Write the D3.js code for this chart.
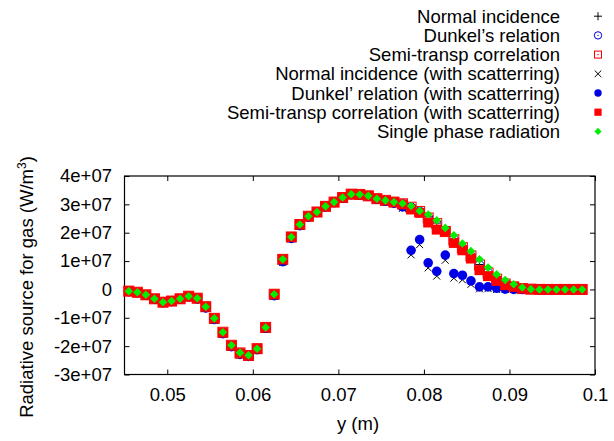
<!DOCTYPE html>
<html>
<head>
<meta charset="utf-8">
<script src="https://cdn.jsdelivr.net/npm/d3@7"></script>
<style>
  html, body { margin: 0; padding: 0; background: #fff; }
  text { font-family: "Liberation Sans", Arial, Helvetica, sans-serif; }
</style>
</head>
<body>
<svg id="chart" width="614" height="441"></svg>
<script>
// ---------------- data (values in units of 1e7 W/m^3) ----------------
const yPositions = [0.0455,0.0465,0.0475,0.0485,0.0495,0.0505,0.0515,0.0525,0.0535,0.0545,
  0.0555,0.0565,0.0575,0.0585,0.0595,0.0605,0.0615,0.0625,0.0635,0.0645,
  0.0655,0.0665,0.0675,0.0685,0.0695,0.0705,0.0715,0.0725,0.0735,0.0745,
  0.0755,0.0765,0.0775,0.0785,0.0795,0.0805,0.0815,0.0825,0.0835,0.0845,
  0.0855,0.0865,0.0875,0.0885,0.0895,0.0905,0.0915,0.0925,0.0935,0.0945,
  0.0955,0.0965,0.0975,0.0985];

const normalIncidence = [-0.07,-0.11,-0.20,-0.34,-0.46,-0.42,-0.34,-0.25,-0.32,-0.62,
  -1.03,-1.52,-1.98,-2.24,-2.33,-2.10,-1.35,-0.18,1.05,1.84,
  2.28,2.57,2.72,2.92,3.07,3.23,3.35,3.34,3.29,3.19,
  3.13,3.07,3.02,2.91,2.76,2.56,2.34,2.06,1.78,1.49,
  1.19,0.88,0.60,0.38,0.20,0.10,0.03,0.01,0,0,0,0,0,0];
const dunkel = [-0.07,-0.11,-0.20,-0.34,-0.46,-0.42,-0.34,-0.25,-0.32,-0.63,
  -1.04,-1.53,-1.99,-2.25,-2.34,-2.11,-1.36,-0.19,1.03,1.83,
  2.27,2.56,2.72,2.92,3.07,3.23,3.35,3.34,3.29,3.19,
  3.13,3.07,3.01,2.90,2.75,2.54,2.31,2.04,1.76,1.47,
  1.18,0.86,0.59,0.37,0.19,0.09,0.03,0.01,0,0,0,0,0,0];
const semiTransp = [-0.06,-0.10,-0.19,-0.33,-0.45,-0.41,-0.33,-0.24,-0.31,-0.61,
  -1.02,-1.51,-1.97,-2.24,-2.33,-2.09,-1.34,-0.17,1.06,1.85,
  2.29,2.58,2.73,2.93,3.08,3.24,3.36,3.35,3.30,3.20,
  3.14,3.08,3.02,2.90,2.75,2.52,2.32,2.04,1.75,1.47,
  1.18,0.86,0.58,0.36,0.19,0.09,0.03,0.01,0,0,0,0,0,0];
const normalIncidenceScat = [-0.08,-0.12,-0.21,-0.35,-0.47,-0.43,-0.35,-0.26,-0.34,-0.66,
  -1.08,-1.58,-2.04,-2.31,-2.38,-2.14,-1.39,-0.24,0.95,1.78,
  2.24,2.55,2.71,2.91,3.06,3.22,3.34,3.33,3.28,3.17,
  3.10,3.03,2.86,1.22,1.58,0.76,0.47,1.03,0.40,0.34,
  0.18,0.02,0.03,0.0,0,0,0,0,0,0,0,0,0,0];
const dunkelScat = [-0.07,-0.11,-0.20,-0.34,-0.46,-0.42,-0.34,-0.25,-0.33,-0.65,
  -1.06,-1.56,-2.02,-2.29,-2.36,-2.12,-1.37,-0.22,0.98,1.80,
  2.25,2.56,2.72,2.92,3.07,3.23,3.35,3.34,3.29,3.18,
  3.11,3.04,2.91,1.38,1.76,0.94,0.64,1.21,0.56,0.50,
  0.30,0.09,0.09,0.04,0.01,0,0,0,0,0,0,0,0,0];
const semiTranspScat = [-0.06,-0.10,-0.19,-0.33,-0.45,-0.41,-0.33,-0.24,-0.31,-0.61,
  -1.02,-1.52,-1.98,-2.25,-2.34,-2.09,-1.34,-0.17,1.06,1.85,
  2.29,2.58,2.73,2.93,3.08,3.24,3.36,3.35,3.30,3.20,
  3.14,3.08,3.00,2.82,2.70,2.36,2.11,2.06,1.64,1.38,
  1.09,0.68,0.47,0.30,0.15,0.09,0.03,0.01,0,0,0,0,0,0];
const singlePhase = [-0.06,-0.10,-0.19,-0.33,-0.45,-0.41,-0.33,-0.24,-0.31,-0.61,
  -1.02,-1.51,-1.97,-2.23,-2.32,-2.09,-1.34,-0.17,1.06,1.85,
  2.29,2.58,2.73,2.93,3.08,3.24,3.36,3.35,3.30,3.20,
  3.14,3.08,3.03,2.94,2.77,2.64,2.44,2.17,1.91,1.62,
  1.35,1.06,0.77,0.53,0.33,0.18,0.07,0.01,0,0,0,0,0,0];

const seriesNames = ["Normal incidence","Dunkel\u2019s relation","Semi-transp correlation",
  "Normal incidence (with scatterring)","Dunkel\u2019 relation (with scatterring)",
  "Semi-transp correlation (with scatterring)","Single phase radiation"];
const xTicks = [0.05,0.06,0.07,0.08,0.09,0.1];
const xTickLabels = ["0.05","0.06","0.07","0.08","0.09","0.1"];
const yTicks = [-3e7,-2e7,-1e7,0,1e7,2e7,3e7,4e7];
const yTickLabels = ["-3e+07","-2e+07","-1e+07","0","1e+07","2e+07","3e+07","4e+07"];

// ---------------- layout ----------------
const svg = d3.select("#chart");
const L = 124.5, R = 595, T = 176, B = 374.5;
const x = d3.scaleLinear().domain([0.045, 0.1]).range([L, R]);
const y = d3.scaleLinear().domain([-3e7, 4e7]).range([B, T]);
const FS = 18.5;

// axes (inward ticks on all four sides)
const xAxisB = d3.axisBottom(x).tickValues(xTicks).tickSize(-5).tickPadding(13.5)
  .tickFormat((d, i) => xTickLabels[i]);
const xAxisT = d3.axisTop(x).tickValues(xTicks).tickSize(-5).tickFormat("");
const yAxisL = d3.axisLeft(y).tickValues(yTicks).tickSize(-5).tickPadding(12.5)
  .tickFormat((d, i) => yTickLabels[i]);
const yAxisR = d3.axisRight(y).tickValues(yTicks).tickSize(-5).tickFormat("");

function styleAxis(g) {
  g.select(".domain").remove();
  g.selectAll("line").attr("stroke", "#000").attr("stroke-width", 1);
  g.selectAll("text").attr("font-size", FS).attr("fill", "#000")
    .attr("font-family", "'Liberation Sans', Arial, sans-serif");
}
svg.append("g").attr("transform", `translate(0,${B})`).call(xAxisB).call(styleAxis);
svg.append("g").attr("transform", `translate(0,${T})`).call(xAxisT).call(styleAxis);
svg.append("g").attr("transform", `translate(${L},0)`).call(yAxisL).call(styleAxis);
svg.append("g").attr("transform", `translate(${R},0)`).call(yAxisR).call(styleAxis);

svg.append("rect").attr("x", L).attr("y", T).attr("width", R - L).attr("height", B - T)
  .attr("fill", "none").attr("stroke", "#000").attr("stroke-width", 1.2);

// axis titles
svg.append("text").attr("x", 358).attr("y", 430).attr("text-anchor", "middle")
  .attr("font-size", FS).text("y (m)");
const yt = svg.append("text").attr("transform", "translate(33,287) rotate(-90)")
  .attr("text-anchor", "middle").attr("font-size", FS);
yt.append("tspan").text("Radiative source for gas (W/m");
yt.append("tspan").attr("font-size", 12).attr("dy", -7).text("3");
yt.append("tspan").attr("dy", 7).text(")");

// ---------------- marker drawing ----------------
const BLUE = "#0000e6", RED = "#ff0000", GREEN = "#00ee00";
function drawMarker(g, type, cx, cy, s) {
  switch (type) {
    case "plus":
      g.append("path").attr("d", `M${cx - s},${cy}H${cx + s}M${cx},${cy - s}V${cy + s}`)
        .attr("stroke", "#000").attr("stroke-width", 1).attr("fill", "none"); break;
    case "ocircle":
      g.append("circle").attr("cx", cx).attr("cy", cy).attr("r", s)
        .attr("fill", "none").attr("stroke", BLUE).attr("stroke-width", 1);
      g.append("circle").attr("cx", cx).attr("cy", cy).attr("r", 0.6).attr("fill", BLUE); break;
    case "osquare":
      g.append("rect").attr("x", cx - s).attr("y", cy - s).attr("width", 2 * s).attr("height", 2 * s)
        .attr("fill", "none").attr("stroke", RED).attr("stroke-width", 1);
      g.append("rect").attr("x", cx - 0.6).attr("y", cy - 0.6).attr("width", 1.2).attr("height", 1.2).attr("fill", RED); break;
    case "cross":
      g.append("path").attr("d", `M${cx - s},${cy - s}L${cx + s},${cy + s}M${cx - s},${cy + s}L${cx + s},${cy - s}`)
        .attr("stroke", "#000").attr("stroke-width", 1).attr("fill", "none"); break;
    case "fcircle":
      g.append("circle").attr("cx", cx).attr("cy", cy).attr("r", s).attr("fill", BLUE); break;
    case "fsquare":
      g.append("rect").attr("x", cx - s).attr("y", cy - s).attr("width", 2 * s).attr("height", 2 * s)
        .attr("fill", RED); break;
    case "fdiamond":
      g.append("path").attr("d", `M${cx},${cy - s}L${cx + s},${cy}L${cx},${cy + s}L${cx - s},${cy}Z`)
        .attr("fill", GREEN); break;
  }
}

const series = [
  { name: seriesNames[0], values: normalIncidence, type: "plus", size: 4, lsize: 4 },
  { name: seriesNames[1], values: dunkel, type: "ocircle", size: 4.5, lsize: 3.7 },
  { name: seriesNames[2], values: semiTransp, type: "osquare", size: 5, lsize: 3.5 },
  { name: seriesNames[3], values: normalIncidenceScat, type: "cross", size: 3.5, lsize: 3.3 },
  { name: seriesNames[4], values: dunkelScat, type: "fcircle", size: 4.8, lsize: 3.7 },
  { name: seriesNames[5], values: semiTranspScat, type: "fsquare", size: 5, lsize: 3.6 },
  { name: seriesNames[6], values: singlePhase, type: "fdiamond", size: 4.3, lsize: 3.6 }
];

const plotG = svg.append("g");
series.forEach(s => {
  const g = plotG.append("g");
  s.values.forEach((v, i) => drawMarker(g, s.type, x(yPositions[i]), y(v * 1e7), s.size));
});

// legend
const legG = svg.append("g");
series.forEach((s, i) => {
  const base = 22.7 + i * 19.2;
  legG.append("text").attr("x", 560).attr("y", base).attr("text-anchor", "end")
    .attr("font-size", FS).text(s.name);
  drawMarker(legG, s.type, 598, base - 6.5, s.lsize);
});
</script>
</body>
</html>
